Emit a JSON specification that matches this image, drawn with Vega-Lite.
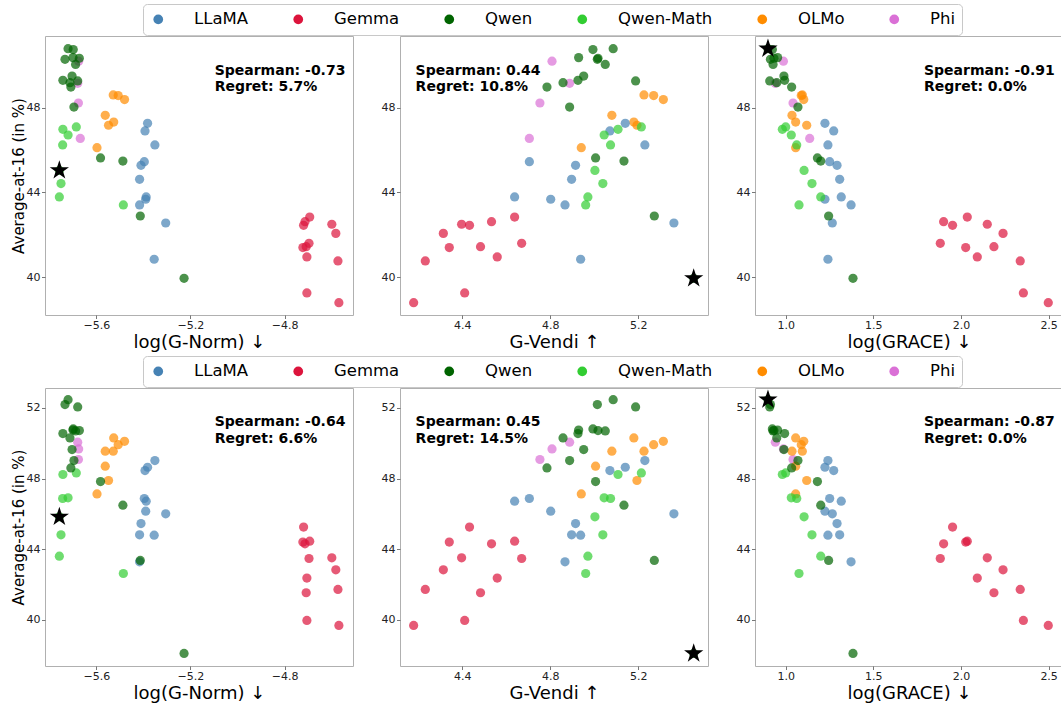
{
"$schema": "https://vega.github.io/schema/vega-lite/v6.json",
"background": "white",
"padding": {"left": 10, "top": 3, "right": 0, "bottom": 0},
"datasets": {
"models": [
{"id":"P1","family":"Phi","gnorm":-5.675,"gvendi":4.808,"grace":0.987,"yA":50.19,"yB":49.68},
{"id":"P2","family":"Phi","gnorm":-5.679,"gvendi":4.888,"grace":0.941,"yA":49.15,"yB":50.06},
{"id":"P3","family":"Phi","gnorm":-5.676,"gvendi":4.753,"grace":1.042,"yA":48.22,"yB":49.08},
{"id":"P4","family":"Phi","gnorm":-5.668,"gvendi":4.705,"grace":1.137,"yA":46.55,"yB":null},
{"id":"O1","family":"OLMo","gnorm":-5.528,"gvendi":5.226,"grace":1.095,"yA":48.60,"yB":49.55},
{"id":"O2","family":"OLMo","gnorm":-5.507,"gvendi":5.270,"grace":1.089,"yA":48.57,"yB":49.92},
{"id":"O3","family":"OLMo","gnorm":-5.480,"gvendi":5.314,"grace":1.103,"yA":48.38,"yB":50.11},
{"id":"O4","family":"OLMo","gnorm":-5.562,"gvendi":5.080,"grace":1.036,"yA":47.64,"yB":49.55},
{"id":"O5","family":"OLMo","gnorm":-5.526,"gvendi":5.180,"grace":1.057,"yA":47.32,"yB":50.30},
{"id":"O6","family":"OLMo","gnorm":-5.548,"gvendi":5.194,"grace":1.120,"yA":47.17,"yB":47.89},
{"id":"O7","family":"OLMo","gnorm":-5.597,"gvendi":4.941,"grace":1.057,"yA":46.11,"yB":47.13},
{"id":"O8","family":"OLMo","gnorm":-5.562,"gvendi":5.006,"grace":1.057,"yA":null,"yB":48.70},
{"id":"L1","family":"LLaMA","gnorm":-5.382,"gvendi":5.141,"grace":1.224,"yA":47.26,"yB":48.64},
{"id":"L2","family":"LLaMA","gnorm":-5.393,"gvendi":5.071,"grace":1.274,"yA":46.90,"yB":48.45},
{"id":"L3","family":"LLaMA","gnorm":-5.351,"gvendi":5.230,"grace":1.241,"yA":46.24,"yB":49.02},
{"id":"L4","family":"LLaMA","gnorm":-5.396,"gvendi":4.705,"grace":1.251,"yA":45.45,"yB":46.87},
{"id":"L5","family":"LLaMA","gnorm":-5.410,"gvendi":4.915,"grace":1.293,"yA":45.28,"yB":45.45},
{"id":"L6","family":"LLaMA","gnorm":-5.416,"gvendi":4.897,"grace":1.308,"yA":44.62,"yB":44.81},
{"id":"L7","family":"LLaMA","gnorm":-5.388,"gvendi":4.638,"grace":1.317,"yA":43.79,"yB":46.72},
{"id":"L8","family":"LLaMA","gnorm":-5.390,"gvendi":4.802,"grace":1.224,"yA":43.68,"yB":46.15},
{"id":"L9","family":"LLaMA","gnorm":-5.416,"gvendi":4.867,"grace":1.373,"yA":43.41,"yB":43.28},
{"id":"L10","family":"LLaMA","gnorm":-5.305,"gvendi":5.362,"grace":1.266,"yA":42.56,"yB":46.00},
{"id":"L11","family":"LLaMA","gnorm":-5.354,"gvendi":4.938,"grace":1.241,"yA":40.85,"yB":44.79},
{"id":"G1","family":"Gemma","gnorm":-4.693,"gvendi":4.638,"grace":2.036,"yA":42.84,"yB":44.45},
{"id":"G2","family":"Gemma","gnorm":-4.713,"gvendi":4.533,"grace":1.901,"yA":42.62,"yB":44.30},
{"id":"G3","family":"Gemma","gnorm":-4.719,"gvendi":4.433,"grace":1.952,"yA":42.45,"yB":45.25},
{"id":"G4","family":"Gemma","gnorm":-4.599,"gvendi":4.397,"grace":2.150,"yA":42.50,"yB":43.51},
{"id":"G5","family":"Gemma","gnorm":-4.582,"gvendi":4.314,"grace":2.240,"yA":42.07,"yB":42.83},
{"id":"G6","family":"Gemma","gnorm":-4.696,"gvendi":4.670,"grace":1.882,"yA":41.60,"yB":43.47},
{"id":"G7","family":"Gemma","gnorm":-4.708,"gvendi":4.483,"grace":2.188,"yA":41.44,"yB":41.53},
{"id":"G8","family":"Gemma","gnorm":-4.722,"gvendi":4.341,"grace":2.027,"yA":41.40,"yB":44.40},
{"id":"G9","family":"Gemma","gnorm":-4.705,"gvendi":4.559,"grace":2.093,"yA":40.96,"yB":42.36},
{"id":"G10","family":"Gemma","gnorm":-4.573,"gvendi":4.232,"grace":2.338,"yA":40.77,"yB":41.72},
{"id":"G11","family":"Gemma","gnorm":-4.705,"gvendi":4.411,"grace":2.356,"yA":39.26,"yB":39.96},
{"id":"G12","family":"Gemma","gnorm":-4.569,"gvendi":4.179,"grace":2.498,"yA":38.80,"yB":39.68},
{"id":"M1","family":"Qwen-Math","gnorm":-5.685,"gvendi":5.214,"grace":1.000,"yA":47.09,"yB":48.32},
{"id":"M2","family":"Qwen-Math","gnorm":-5.742,"gvendi":5.108,"grace":0.981,"yA":46.98,"yB":48.23},
{"id":"M3","family":"Qwen-Math","gnorm":-5.720,"gvendi":5.045,"grace":1.032,"yA":46.71,"yB":46.91},
{"id":"M4","family":"Qwen-Math","gnorm":-5.743,"gvendi":5.074,"grace":1.063,"yA":46.24,"yB":46.87},
{"id":"M5","family":"Qwen-Math","gnorm":-5.757,"gvendi":5.003,"grace":1.105,"yA":45.04,"yB":45.83},
{"id":"M6","family":"Qwen-Math","gnorm":-5.750,"gvendi":5.039,"grace":1.150,"yA":44.42,"yB":44.81},
{"id":"M7","family":"Qwen-Math","gnorm":-5.757,"gvendi":4.971,"grace":1.200,"yA":43.79,"yB":43.60},
{"id":"M8","family":"Qwen-Math","gnorm":-5.485,"gvendi":4.961,"grace":1.076,"yA":43.41,"yB":42.62},
{"id":"T1","family":"Qwen","gnorm":-5.720,"gvendi":5.086,"grace":0.899,"yA":50.78,"yB":52.47},
{"id":"T2","family":"Qwen","gnorm":-5.698,"gvendi":4.994,"grace":0.924,"yA":50.74,"yB":50.81},
{"id":"T3","family":"Qwen","gnorm":-5.699,"gvendi":4.929,"grace":0.954,"yA":50.36,"yB":50.75},
{"id":"T4","family":"Qwen","gnorm":-5.672,"gvendi":5.017,"grace":0.933,"yA":50.33,"yB":50.72},
{"id":"T5","family":"Qwen","gnorm":-5.733,"gvendi":5.014,"grace":0.913,"yA":50.28,"yB":52.19},
{"id":"T6","family":"Qwen","gnorm":-5.688,"gvendi":5.050,"grace":0.928,"yA":50.04,"yB":50.70},
{"id":"T7","family":"Qwen","gnorm":-5.703,"gvendi":4.952,"grace":0.990,"yA":49.49,"yB":49.64},
{"id":"T8","family":"Qwen","gnorm":-5.742,"gvendi":4.926,"grace":0.994,"yA":49.29,"yB":50.55},
{"id":"T9","family":"Qwen","gnorm":-5.679,"gvendi":5.188,"grace":0.909,"yA":49.26,"yB":52.06},
{"id":"T10","family":"Qwen","gnorm":-5.712,"gvendi":4.858,"grace":0.949,"yA":49.18,"yB":50.30},
{"id":"T11","family":"Qwen","gnorm":-5.708,"gvendi":4.785,"grace":1.034,"yA":48.97,"yB":48.60},
{"id":"T12","family":"Qwen","gnorm":-5.695,"gvendi":4.888,"grace":1.070,"yA":48.03,"yB":49.02},
{"id":"T13","family":"Qwen","gnorm":-5.582,"gvendi":5.006,"grace":1.181,"yA":45.63,"yB":47.83},
{"id":"T14","family":"Qwen","gnorm":-5.487,"gvendi":5.135,"grace":1.200,"yA":45.48,"yB":46.49},
{"id":"T15","family":"Qwen","gnorm":-5.413,"gvendi":5.273,"grace":1.245,"yA":42.89,"yB":43.36},
{"id":"T16","family":"Qwen","gnorm":-5.227,"gvendi":5.452,"grace":1.384,"yA":39.95,"yB":38.09}
],
"notes": [
{"panel":"A1","gnorm":-5.097,"yA":50.06,"label":"Spearman: -0.73\nRegret: 5.7%"},
{"panel":"A2","gvendi":4.188,"yA":50.06,"label":"Spearman: 0.44\nRegret: 10.8%"},
{"panel":"A3","grace":1.789,"yA":50.06,"label":"Spearman: -0.91\nRegret: 0.0%"},
{"panel":"B1","gnorm":-5.097,"yB":51.58,"label":"Spearman: -0.64\nRegret: 6.6%"},
{"panel":"B2","gvendi":4.188,"yB":51.58,"label":"Spearman: 0.45\nRegret: 14.5%"},
{"panel":"B3","grace":1.789,"yB":51.58,"label":"Spearman: -0.87\nRegret: 0.0%"}
]
},
"concat": [
{"width":308,"height":279,
"encoding":{"x":{"field":"gnorm","type":"quantitative","scale":{"domain":[-5.818,-4.509],"nice":false,"zero":false},"axis":{"values":[-5.6,-5.2,-4.8],"format":".1f","title":"log(G-Norm) ↓"}},
"y":{"field":"yA","type":"quantitative","scale":{"domain":[38.22,51.38],"nice":false,"zero":false},"axis":{"values":[40,44,48],"format":"d","title":"Average-at-16 (in %)"}}},
"layer":[
{"data":{"name":"models"},"transform":[{"filter":"isValid(datum.yA)"}],"mark":{"type":"circle","size":85,"opacity":0.7},
"encoding":{"color":{"field":"family","type":"nominal","scale":{"domain":["LLaMA","Gemma","Qwen","Qwen-Math","OLMo","Phi"],"range":["#4682b4","#dc143c","#006400","#32cd32","#ff8c00","#da70d6"]},"legend":null}}},
{"data":{"name":"models"},"transform":[{"filter":{"field":"id","equal":"M5"}}],"mark":{"type":"point","shape":"M0,-1L0.2245,-0.309L0.951,-0.309L0.363,0.118L0.588,0.809L0,0.382L-0.588,0.809L-0.363,0.118L-0.951,-0.309L-0.2245,-0.309Z","filled":true,"color":"#000","opacity":1,"size":410,"strokeWidth":0}},
{"data":{"name":"notes"},"transform":[{"filter":{"field":"panel","equal":"A1"}}],"mark":{"type":"text","align":"left","baseline":"top","fontSize":14,"fontWeight":"bold","font":"DejaVu Sans","lineBreak":"\n","lineHeight":16.5,"color":"#000"},"encoding":{"text":{"field":"label"}}}
]},
{"width":308,"height":279,
"encoding":{"x":{"field":"gvendi","type":"quantitative","scale":{"domain":[4.117,5.517],"nice":false,"zero":false},"axis":{"values":[4.4,4.8,5.2],"format":".1f","title":"G-Vendi ↑"}},
"y":{"field":"yA","type":"quantitative","scale":{"domain":[38.22,51.38],"nice":false,"zero":false},"axis":{"values":[40,44,48],"format":"d","title":null}}},
"layer":[
{"data":{"name":"models"},"transform":[{"filter":"isValid(datum.yA)"}],"mark":{"type":"circle","size":85,"opacity":0.7},
"encoding":{"color":{"field":"family","type":"nominal","scale":{"domain":["LLaMA","Gemma","Qwen","Qwen-Math","OLMo","Phi"],"range":["#4682b4","#dc143c","#006400","#32cd32","#ff8c00","#da70d6"]},"legend":{"orient":"none","legendX":-257,"legendY":-32,"direction":"horizontal","columns":6,"columnPadding":41,"title":null,"symbolType":"circle","symbolSize":95,"symbolOpacity":1,"symbolStrokeWidth":0,"labelFontSize":16.5,"labelOffset":27.5,"labelFont":"DejaVu Sans","labelColor":"#000","padding":7,"strokeColor":"#c8c8c8","fillColor":"#ffffff","cornerRadius":4}}}},
{"data":{"name":"models"},"transform":[{"filter":{"field":"id","equal":"T16"}}],"mark":{"type":"point","shape":"M0,-1L0.2245,-0.309L0.951,-0.309L0.363,0.118L0.588,0.809L0,0.382L-0.588,0.809L-0.363,0.118L-0.951,-0.309L-0.2245,-0.309Z","filled":true,"color":"#000","opacity":1,"size":410,"strokeWidth":0}},
{"data":{"name":"notes"},"transform":[{"filter":{"field":"panel","equal":"A2"}}],"mark":{"type":"text","align":"left","baseline":"top","fontSize":14,"fontWeight":"bold","font":"DejaVu Sans","lineBreak":"\n","lineHeight":16.5,"color":"#000"},"encoding":{"text":{"field":"label"}}}
]},
{"width":308,"height":279,
"encoding":{"x":{"field":"grace","type":"quantitative","scale":{"domain":[0.825,2.582],"nice":false,"zero":false},"axis":{"values":[1.0,1.5,2.0,2.5],"format":".1f","title":"log(GRACE) ↓"}},
"y":{"field":"yA","type":"quantitative","scale":{"domain":[38.22,51.38],"nice":false,"zero":false},"axis":{"values":[40,44,48],"format":"d","title":null}}},
"layer":[
{"data":{"name":"models"},"transform":[{"filter":"isValid(datum.yA)"}],"mark":{"type":"circle","size":85,"opacity":0.7},
"encoding":{"color":{"field":"family","type":"nominal","scale":{"domain":["LLaMA","Gemma","Qwen","Qwen-Math","OLMo","Phi"],"range":["#4682b4","#dc143c","#006400","#32cd32","#ff8c00","#da70d6"]},"legend":null}}},
{"data":{"name":"models"},"transform":[{"filter":{"field":"id","equal":"T1"}}],"mark":{"type":"point","shape":"M0,-1L0.2245,-0.309L0.951,-0.309L0.363,0.118L0.588,0.809L0,0.382L-0.588,0.809L-0.363,0.118L-0.951,-0.309L-0.2245,-0.309Z","filled":true,"color":"#000","opacity":1,"size":410,"strokeWidth":0}},
{"data":{"name":"notes"},"transform":[{"filter":{"field":"panel","equal":"A3"}}],"mark":{"type":"text","align":"left","baseline":"top","fontSize":14,"fontWeight":"bold","font":"DejaVu Sans","lineBreak":"\n","lineHeight":16.5,"color":"#000"},"encoding":{"text":{"field":"label"}}}
]},
{"width":308,"height":278,
"encoding":{"x":{"field":"gnorm","type":"quantitative","scale":{"domain":[-5.818,-4.509],"nice":false,"zero":false},"axis":{"values":[-5.6,-5.2,-4.8],"format":".1f","title":"log(G-Norm) ↓"}},
"y":{"field":"yB","type":"quantitative","scale":{"domain":[37.38,53.13],"nice":false,"zero":false},"axis":{"values":[40,44,48,52],"format":"d","title":"Average-at-16 (in %)"}}},
"layer":[
{"data":{"name":"models"},"transform":[{"filter":"isValid(datum.yB)"}],"mark":{"type":"circle","size":85,"opacity":0.7},
"encoding":{"color":{"field":"family","type":"nominal","scale":{"domain":["LLaMA","Gemma","Qwen","Qwen-Math","OLMo","Phi"],"range":["#4682b4","#dc143c","#006400","#32cd32","#ff8c00","#da70d6"]},"legend":null}}},
{"data":{"name":"models"},"transform":[{"filter":{"field":"id","equal":"M5"}}],"mark":{"type":"point","shape":"M0,-1L0.2245,-0.309L0.951,-0.309L0.363,0.118L0.588,0.809L0,0.382L-0.588,0.809L-0.363,0.118L-0.951,-0.309L-0.2245,-0.309Z","filled":true,"color":"#000","opacity":1,"size":410,"strokeWidth":0}},
{"data":{"name":"notes"},"transform":[{"filter":{"field":"panel","equal":"B1"}}],"mark":{"type":"text","align":"left","baseline":"top","fontSize":14,"fontWeight":"bold","font":"DejaVu Sans","lineBreak":"\n","lineHeight":16.5,"color":"#000"},"encoding":{"text":{"field":"label"}}}
]},
{"width":308,"height":278,
"encoding":{"x":{"field":"gvendi","type":"quantitative","scale":{"domain":[4.117,5.517],"nice":false,"zero":false},"axis":{"values":[4.4,4.8,5.2],"format":".1f","title":"G-Vendi ↑"}},
"y":{"field":"yB","type":"quantitative","scale":{"domain":[37.38,53.13],"nice":false,"zero":false},"axis":{"values":[40,44,48,52],"format":"d","title":null}}},
"layer":[
{"data":{"name":"models"},"transform":[{"filter":"isValid(datum.yB)"}],"mark":{"type":"circle","size":85,"opacity":0.7},
"encoding":{"color":{"field":"family","type":"nominal","scale":{"domain":["LLaMA","Gemma","Qwen","Qwen-Math","OLMo","Phi"],"range":["#4682b4","#dc143c","#006400","#32cd32","#ff8c00","#da70d6"]},"legend":{"orient":"none","legendX":-257,"legendY":-32,"direction":"horizontal","columns":6,"columnPadding":41,"title":null,"symbolType":"circle","symbolSize":95,"symbolOpacity":1,"symbolStrokeWidth":0,"labelFontSize":16.5,"labelOffset":27.5,"labelFont":"DejaVu Sans","labelColor":"#000","padding":7,"strokeColor":"#c8c8c8","fillColor":"#ffffff","cornerRadius":4}}}},
{"data":{"name":"models"},"transform":[{"filter":{"field":"id","equal":"T16"}}],"mark":{"type":"point","shape":"M0,-1L0.2245,-0.309L0.951,-0.309L0.363,0.118L0.588,0.809L0,0.382L-0.588,0.809L-0.363,0.118L-0.951,-0.309L-0.2245,-0.309Z","filled":true,"color":"#000","opacity":1,"size":410,"strokeWidth":0}},
{"data":{"name":"notes"},"transform":[{"filter":{"field":"panel","equal":"B2"}}],"mark":{"type":"text","align":"left","baseline":"top","fontSize":14,"fontWeight":"bold","font":"DejaVu Sans","lineBreak":"\n","lineHeight":16.5,"color":"#000"},"encoding":{"text":{"field":"label"}}}
]},
{"width":308,"height":278,
"encoding":{"x":{"field":"grace","type":"quantitative","scale":{"domain":[0.825,2.582],"nice":false,"zero":false},"axis":{"values":[1.0,1.5,2.0,2.5],"format":".1f","title":"log(GRACE) ↓"}},
"y":{"field":"yB","type":"quantitative","scale":{"domain":[37.38,53.13],"nice":false,"zero":false},"axis":{"values":[40,44,48,52],"format":"d","title":null}}},
"layer":[
{"data":{"name":"models"},"transform":[{"filter":"isValid(datum.yB)"}],"mark":{"type":"circle","size":85,"opacity":0.7},
"encoding":{"color":{"field":"family","type":"nominal","scale":{"domain":["LLaMA","Gemma","Qwen","Qwen-Math","OLMo","Phi"],"range":["#4682b4","#dc143c","#006400","#32cd32","#ff8c00","#da70d6"]},"legend":null}}},
{"data":{"name":"models"},"transform":[{"filter":{"field":"id","equal":"T1"}}],"mark":{"type":"point","shape":"M0,-1L0.2245,-0.309L0.951,-0.309L0.363,0.118L0.588,0.809L0,0.382L-0.588,0.809L-0.363,0.118L-0.951,-0.309L-0.2245,-0.309Z","filled":true,"color":"#000","opacity":1,"size":410,"strokeWidth":0}},
{"data":{"name":"notes"},"transform":[{"filter":{"field":"panel","equal":"B3"}}],"mark":{"type":"text","align":"left","baseline":"top","fontSize":14,"fontWeight":"bold","font":"DejaVu Sans","lineBreak":"\n","lineHeight":16.5,"color":"#000"},"encoding":{"text":{"field":"label"}}}
]}
],
"columns": 3,
"spacing": {"row": 73, "column": 47},
"bounds": "flush",
"resolve": {"scale": {"color": "independent"}, "legend": {"color": "independent"}},
"config": {
"font": "DejaVu Sans",
"view": {"stroke": "#b0b0b0", "strokeWidth": 1},
"axis": {"grid": false, "domain": false, "tickSize": 3.5, "tickColor": "#555555", "tickWidth": 0.8, "labelFontSize": 11, "labelColor": "#222222", "labelFont": "DejaVu Sans", "titleFont": "DejaVu Sans", "titleFontWeight": "normal", "titleColor": "#000000", "labelPadding": 2},
"axisX": {"titleFontSize": 18, "titlePadding": 3, "labelPadding": 0.5},
"axisY": {"titleFontSize": 15, "titlePadding": 0, "labelPadding": 1.5}
}
}
